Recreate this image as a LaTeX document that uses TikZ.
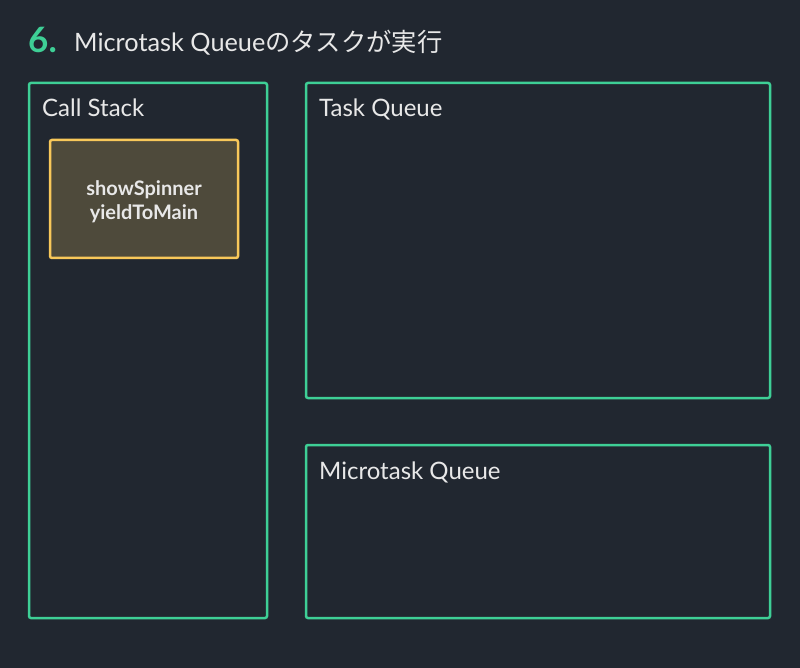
\documentclass[tikz,border=0pt]{standalone}
\usepackage{fontspec}
\setmainfont{Lato}
\newfontfamily\jpfont{Noto Sans CJK JP}
\definecolor{bgdark}{HTML}{212730}
\definecolor{qgreen}{HTML}{3ECF96}
\definecolor{fyellow}{HTML}{F8C85A}
\definecolor{ffill}{HTML}{4E4A3B}
\definecolor{txtlight}{HTML}{E8E8E8}
\tikzset{area/.style = {draw=qgreen, line width=2.5pt, rounded corners=2pt, anchor=north west, inner sep=0pt, outer sep=0pt},
         lbl/.style = {anchor=base west, inner sep=0pt, text=txtlight, font=\fontsize{24}{28}\selectfont},
         frame/.style = {draw=fyellow, fill=ffill, line width=2.5pt, rounded corners=2pt, text=txtlight,
                         align=center, font=\bfseries\fontsize{20}{24}\selectfont, inner sep=0pt, outer sep=0pt}}

\begin{document}
\begin{tikzpicture}[x=1pt, y=-1pt]
    \fill[bgdark] (0,0) rectangle (800,668);
    \useasboundingbox (0,0) rectangle (800,668);
    % title
    \node[anchor=base west, inner sep=0pt, text=qgreen, font=\bfseries\fontsize{35}{40}\selectfont] (num) at (28,53) {6.};
    \node[anchor=base west, inner sep=0pt, text=txtlight, font=\fontsize{25.3}{30}\selectfont] (title) at (74,52) {Microtask Queue{\jpfont のタスクが実行}};
    % areas
    \node[area, minimum width=238pt, minimum height=535pt] (stack) at (29,83) {};
    \node[area, minimum width=464pt, minimum height=315pt] (tasks) at (306,83) {};
    \node[area, minimum width=464pt, minimum height=173pt] (micro) at (306,445) {};
    \node[lbl] (stacklbl) at (42,117) {Call Stack};
    \node[lbl] (taskslbl) at (319,117) {Task Queue};
    \node[lbl] (microlbl) at (319,479) {Microtask Queue};
    % call stack frame
    \node[frame, minimum width=188pt, minimum height=118pt] (spin) at (144,199) {};
    \node[text=txtlight, align=center, font=\bfseries\fontsize{20}{24}\selectfont, inner sep=0pt] (spintxt) at ([yshift=-3pt]spin.center) {showSpinner\\yieldToMain};
\end{tikzpicture}
\end{document}
